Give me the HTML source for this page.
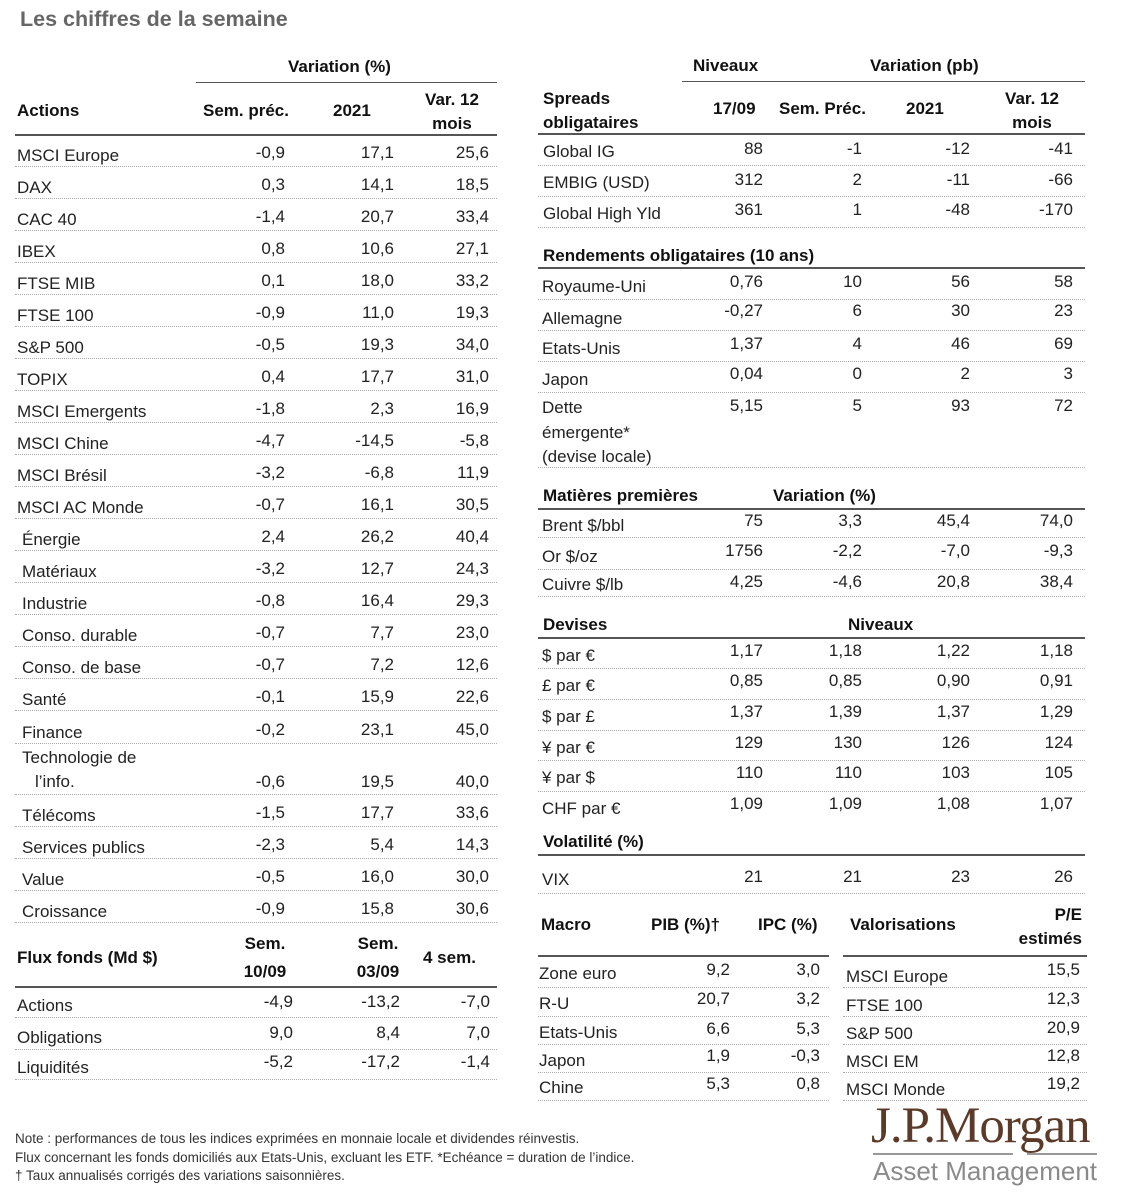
<!DOCTYPE html>
<html><head><meta charset="utf-8">
<style>
body{margin:0;width:1131px;height:1200px;position:relative;background:#fff;font-family:"Liberation Sans",sans-serif;font-size:17px;color:#222;overflow:hidden}
.a{position:absolute;white-space:nowrap}
.b{font-weight:bold;color:#111}
.r{position:absolute;border-bottom:1px dotted #aaa;box-sizing:border-box}
.r span{position:absolute;white-space:nowrap;line-height:20px}
.L{left:0;width:482px}
.R{left:538px;width:547px}
.solid{position:absolute;height:0;border-top:2px solid #555}
.c{text-align:center}
</style></head><body>
<div class="a" style="left:20px;top:7px;font-size:21.5px;font-weight:bold;color:#666">Les chiffres de la semaine</div>

<!-- LEFT TABLE -->
<div class="a b" style="left:288px;top:57px">Variation (%)</div>
<div class="solid" style="left:196px;top:82px;width:301px;border-top-width:1.5px"></div>
<div class="a b" style="left:17px;top:101px">Actions</div>
<div class="a b" style="left:203px;top:101px">Sem. préc.</div>
<div class="a b" style="left:333px;top:101px">2021</div>
<div class="a b c" style="left:412px;top:88px;width:80px;line-height:24px">Var. 12<br>mois</div>
<div class="solid" style="left:15px;top:134px;width:482px"></div>

<div style="position:absolute;left:15px;top:0">
<div class="r L" style="top:136px;height:31px"><span style="left:2px;top:10px">MSCI Europe</span><span style="right:212px;top:7px">-0,9</span><span style="right:103px;top:7px">17,1</span><span style="right:8px;top:7px">25,6</span></div>
<div class="r L" style="top:167px;height:32px"><span style="left:2px;top:11px">DAX</span><span style="right:212px;top:8px">0,3</span><span style="right:103px;top:8px">14,1</span><span style="right:8px;top:8px">18,5</span></div>
<div class="r L" style="top:199px;height:32px"><span style="left:2px;top:11px">CAC 40</span><span style="right:212px;top:8px">-1,4</span><span style="right:103px;top:8px">20,7</span><span style="right:8px;top:8px">33,4</span></div>
<div class="r L" style="top:231px;height:32px"><span style="left:2px;top:11px">IBEX</span><span style="right:212px;top:8px">0,8</span><span style="right:103px;top:8px">10,6</span><span style="right:8px;top:8px">27,1</span></div>
<div class="r L" style="top:263px;height:32px"><span style="left:2px;top:11px">FTSE MIB</span><span style="right:212px;top:8px">0,1</span><span style="right:103px;top:8px">18,0</span><span style="right:8px;top:8px">33,2</span></div>
<div class="r L" style="top:295px;height:32px"><span style="left:2px;top:11px">FTSE 100</span><span style="right:212px;top:8px">-0,9</span><span style="right:103px;top:8px">11,0</span><span style="right:8px;top:8px">19,3</span></div>
<div class="r L" style="top:327px;height:32px"><span style="left:2px;top:11px">S&amp;P 500</span><span style="right:212px;top:8px">-0,5</span><span style="right:103px;top:8px">19,3</span><span style="right:8px;top:8px">34,0</span></div>
<div class="r L" style="top:359px;height:32px"><span style="left:2px;top:11px">TOPIX</span><span style="right:212px;top:8px">0,4</span><span style="right:103px;top:8px">17,7</span><span style="right:8px;top:8px">31,0</span></div>
<div class="r L" style="top:391px;height:32px"><span style="left:2px;top:11px">MSCI Emergents</span><span style="right:212px;top:8px">-1,8</span><span style="right:103px;top:8px">2,3</span><span style="right:8px;top:8px">16,9</span></div>
<div class="r L" style="top:423px;height:32px"><span style="left:2px;top:11px">MSCI Chine</span><span style="right:212px;top:8px">-4,7</span><span style="right:103px;top:8px">-14,5</span><span style="right:8px;top:8px">-5,8</span></div>
<div class="r L" style="top:455px;height:32px"><span style="left:2px;top:11px">MSCI Brésil</span><span style="right:212px;top:8px">-3,2</span><span style="right:103px;top:8px">-6,8</span><span style="right:8px;top:8px">11,9</span></div>
<div class="r L" style="top:487px;height:32px"><span style="left:2px;top:11px">MSCI AC Monde</span><span style="right:212px;top:8px">-0,7</span><span style="right:103px;top:8px">16,1</span><span style="right:8px;top:8px">30,5</span></div>
<div class="r L" style="top:519px;height:32px"><span style="left:7px;top:11px">Énergie</span><span style="right:212px;top:8px">2,4</span><span style="right:103px;top:8px">26,2</span><span style="right:8px;top:8px">40,4</span></div>
<div class="r L" style="top:551px;height:32px"><span style="left:7px;top:11px">Matériaux</span><span style="right:212px;top:8px">-3,2</span><span style="right:103px;top:8px">12,7</span><span style="right:8px;top:8px">24,3</span></div>
<div class="r L" style="top:583px;height:32px"><span style="left:7px;top:11px">Industrie</span><span style="right:212px;top:8px">-0,8</span><span style="right:103px;top:8px">16,4</span><span style="right:8px;top:8px">29,3</span></div>
<div class="r L" style="top:615px;height:32px"><span style="left:7px;top:11px">Conso. durable</span><span style="right:212px;top:8px">-0,7</span><span style="right:103px;top:8px">7,7</span><span style="right:8px;top:8px">23,0</span></div>
<div class="r L" style="top:647px;height:32px"><span style="left:7px;top:11px">Conso. de base</span><span style="right:212px;top:8px">-0,7</span><span style="right:103px;top:8px">7,2</span><span style="right:8px;top:8px">12,6</span></div>
<div class="r L" style="top:679px;height:32px"><span style="left:7px;top:11px">Santé</span><span style="right:212px;top:8px">-0,1</span><span style="right:103px;top:8px">15,9</span><span style="right:8px;top:8px">22,6</span></div>
<div class="r L" style="top:711px;height:33px"><span style="left:7px;top:12px">Finance</span><span style="right:212px;top:9px">-0,2</span><span style="right:103px;top:9px">23,1</span><span style="right:8px;top:9px">45,0</span></div>
<div class="r L" style="top:744px;height:51px"><span style="left:7px;top:4px">Technologie de</span><span style="left:20px;top:28px">l’info.</span><span style="right:212px;top:28px">-0,6</span><span style="right:103px;top:28px">19,5</span><span style="right:8px;top:28px">40,0</span></div>
<div class="r L" style="top:795px;height:32px"><span style="left:7px;top:11px">Télécoms</span><span style="right:212px;top:8px">-1,5</span><span style="right:103px;top:8px">17,7</span><span style="right:8px;top:8px">33,6</span></div>
<div class="r L" style="top:827px;height:32px"><span style="left:7px;top:11px">Services publics</span><span style="right:212px;top:8px">-2,3</span><span style="right:103px;top:8px">5,4</span><span style="right:8px;top:8px">14,3</span></div>
<div class="r L" style="top:859px;height:32px"><span style="left:7px;top:11px">Value</span><span style="right:212px;top:8px">-0,5</span><span style="right:103px;top:8px">16,0</span><span style="right:8px;top:8px">30,0</span></div>
<div class="r L" style="top:891px;height:32px"><span style="left:7px;top:11px">Croissance</span><span style="right:212px;top:8px">-0,9</span><span style="right:103px;top:8px">15,8</span><span style="right:8px;top:8px">30,6</span></div>
</div>

<div class="a b" style="left:17px;top:948px">Flux fonds (Md $)</div>
<div class="a b c" style="left:230px;top:930px;width:70px;line-height:28px">Sem.<br>10/09</div>
<div class="a b c" style="left:338px;top:930px;width:80px;line-height:28px">Sem.<br>03/09</div>
<div class="a b" style="left:423px;top:948px">4 sem.</div>
<div class="solid" style="left:15px;top:986px;width:482px"></div>
<div style="position:absolute;left:15px;top:0">
<div class="r L" style="top:988px;height:30px"><span style="left:2px;top:8px">Actions</span><span style="right:204px;top:4px">-4,9</span><span style="right:97px;top:4px">-13,2</span><span style="right:7px;top:4px">-7,0</span></div>
<div class="r L" style="top:1018px;height:32px"><span style="left:2px;top:10px">Obligations</span><span style="right:204px;top:5px">9,0</span><span style="right:97px;top:5px">8,4</span><span style="right:7px;top:5px">7,0</span></div>
<div class="r L" style="top:1050px;height:30px"><span style="left:2px;top:8px">Liquidités</span><span style="right:204px;top:2px">-5,2</span><span style="right:97px;top:2px">-17,2</span><span style="right:7px;top:2px">-1,4</span></div>
</div>

<div class="a" style="left:15px;top:1130px;font-size:13.5px;line-height:18.5px;color:#333">Note : performances de tous les indices exprimées en monnaie locale et dividendes réinvestis.<br>Flux concernant les fonds domiciliés aux Etats-Unis, excluant les ETF. *Echéance = duration de l’indice.<br>† Taux annualisés corrigés des variations saisonnières.</div>

<!-- RIGHT TABLE -->
<div class="a b" style="left:693px;top:56px">Niveaux</div>
<div class="a b" style="left:870px;top:56px">Variation (pb)</div>
<div class="solid" style="left:682px;top:81px;width:403px;border-top-width:1.5px"></div>
<div class="a b" style="left:543px;top:87px;line-height:24px">Spreads<br>obligataires</div>
<div class="a b" style="left:713px;top:99px">17/09</div>
<div class="a b" style="left:779px;top:99px">Sem. Préc.</div>
<div class="a b" style="left:906px;top:99px">2021</div>
<div class="a b c" style="left:992px;top:87px;width:80px;line-height:24px">Var. 12<br>mois</div>
<div class="solid" style="left:538px;top:133px;width:547px"></div>

<div class="r R" style="top:135px;height:31px"><span style="left:5px;top:7px">Global IG</span><span style="right:322px;top:4px">88</span><span style="right:223px;top:4px">-1</span><span style="right:115px;top:4px">-12</span><span style="right:12px;top:4px">-41</span></div>
<div class="r R" style="top:166px;height:31px"><span style="left:5px;top:7px">EMBIG (USD)</span><span style="right:322px;top:4px">312</span><span style="right:223px;top:4px">2</span><span style="right:115px;top:4px">-11</span><span style="right:12px;top:4px">-66</span></div>
<div class="r R" style="top:197px;height:31px"><span style="left:5px;top:7px">Global High Yld</span><span style="right:322px;top:3px">361</span><span style="right:223px;top:3px">1</span><span style="right:115px;top:3px">-48</span><span style="right:12px;top:3px">-170</span></div>

<div class="a b" style="left:543px;top:246px">Rendements obligataires (10 ans)</div>
<div class="solid" style="left:538px;top:267px;width:547px"></div>
<div class="r R" style="top:269px;height:31px"><span style="left:4px;top:8px">Royaume-Uni</span><span style="right:322px;top:3px">0,76</span><span style="right:223px;top:3px">10</span><span style="right:115px;top:3px">56</span><span style="right:12px;top:3px">58</span></div>
<div class="r R" style="top:300px;height:31px"><span style="left:4px;top:9px">Allemagne</span><span style="right:322px;top:1px">-0,27</span><span style="right:223px;top:1px">6</span><span style="right:115px;top:1px">30</span><span style="right:12px;top:1px">23</span></div>
<div class="r R" style="top:331px;height:31px"><span style="left:4px;top:8px">Etats-Unis</span><span style="right:322px;top:3px">1,37</span><span style="right:223px;top:3px">4</span><span style="right:115px;top:3px">46</span><span style="right:12px;top:3px">69</span></div>
<div class="r R" style="top:362px;height:31px"><span style="left:4px;top:8px">Japon</span><span style="right:322px;top:2px">0,04</span><span style="right:223px;top:2px">0</span><span style="right:115px;top:2px">2</span><span style="right:12px;top:2px">3</span></div>
<div class="r R" style="top:393px;height:75px"><span style="left:4px;top:3px;line-height:24.5px">Dette<br>émergente*<br>(devise locale)</span><span style="right:322px;top:3px">5,15</span><span style="right:223px;top:3px">5</span><span style="right:115px;top:3px">93</span><span style="right:12px;top:3px">72</span></div>

<div class="a b" style="left:543px;top:486px">Matières premières</div>
<div class="a b" style="left:773px;top:486px">Variation (%)</div>
<div class="solid" style="left:538px;top:508px;width:547px"></div>
<div class="r R" style="top:510px;height:28px"><span style="left:4px;top:6px">Brent $/bbl</span><span style="right:322px;top:1px">75</span><span style="right:223px;top:1px">3,3</span><span style="right:115px;top:1px">45,4</span><span style="right:12px;top:1px">74,0</span></div>
<div class="r R" style="top:538px;height:32px"><span style="left:4px;top:9px">Or $/oz</span><span style="right:322px;top:3px">1756</span><span style="right:223px;top:3px">-2,2</span><span style="right:115px;top:3px">-7,0</span><span style="right:12px;top:3px">-9,3</span></div>
<div class="r R" style="top:570px;height:27px"><span style="left:4px;top:5px">Cuivre $/lb</span><span style="right:322px;top:2px">4,25</span><span style="right:223px;top:2px">-4,6</span><span style="right:115px;top:2px">20,8</span><span style="right:12px;top:2px">38,4</span></div>

<div class="a b" style="left:543px;top:615px">Devises</div>
<div class="a b" style="left:848px;top:615px">Niveaux</div>
<div class="solid" style="left:538px;top:637px;width:547px"></div>
<div class="r R" style="top:639px;height:30px"><span style="left:4px;top:7px">$ par €</span><span style="right:322px;top:2px">1,17</span><span style="right:223px;top:2px">1,18</span><span style="right:115px;top:2px">1,22</span><span style="right:12px;top:2px">1,18</span></div>
<div class="r R" style="top:669px;height:31px"><span style="left:4px;top:7px">£ par €</span><span style="right:322px;top:2px">0,85</span><span style="right:223px;top:2px">0,85</span><span style="right:115px;top:2px">0,90</span><span style="right:12px;top:2px">0,91</span></div>
<div class="r R" style="top:700px;height:31px"><span style="left:4px;top:7px">$ par £</span><span style="right:322px;top:2px">1,37</span><span style="right:223px;top:2px">1,39</span><span style="right:115px;top:2px">1,37</span><span style="right:12px;top:2px">1,29</span></div>
<div class="r R" style="top:731px;height:30px"><span style="left:4px;top:7px">¥ par €</span><span style="right:322px;top:2px">129</span><span style="right:223px;top:2px">130</span><span style="right:115px;top:2px">126</span><span style="right:12px;top:2px">124</span></div>
<div class="r R" style="top:761px;height:31px"><span style="left:4px;top:7px">¥ par $</span><span style="right:322px;top:2px">110</span><span style="right:223px;top:2px">110</span><span style="right:115px;top:2px">103</span><span style="right:12px;top:2px">105</span></div>
<div class="r R" style="top:792px;height:31px;border:none"><span style="left:4px;top:7px">CHF par €</span><span style="right:322px;top:2px">1,09</span><span style="right:223px;top:2px">1,09</span><span style="right:115px;top:2px">1,08</span><span style="right:12px;top:2px">1,07</span></div>

<div class="a b" style="left:543px;top:832px">Volatilité (%)</div>
<div class="solid" style="left:538px;top:854px;width:547px"></div>
<div class="r R" style="top:856px;height:38px"><span style="left:4px;top:14px">VIX</span><span style="right:322px;top:11px">21</span><span style="right:223px;top:11px">21</span><span style="right:115px;top:11px">23</span><span style="right:12px;top:11px">26</span></div>

<!-- Macro -->
<div class="a b" style="left:541px;top:915px">Macro</div>
<div class="a b" style="left:651px;top:915px">PIB (%)†</div>
<div class="a b" style="left:758px;top:915px">IPC (%)</div>
<div class="solid" style="left:538px;top:955px;width:291px"></div>
<div style="position:absolute;left:538px;top:0">
<div class="r" style="left:0;width:291px;top:957px;height:31px"><span style="left:1px;top:7px">Zone euro</span><span style="right:99px;top:3px">9,2</span><span style="right:9px;top:3px">3,0</span></div>
<div class="r" style="left:0;width:291px;top:988px;height:29px"><span style="left:1px;top:6px">R-U</span><span style="right:99px;top:1px">20,7</span><span style="right:9px;top:1px">3,2</span></div>
<div class="r" style="left:0;width:291px;top:1017px;height:28px"><span style="left:1px;top:6px">Etats-Unis</span><span style="right:99px;top:2px">6,6</span><span style="right:9px;top:2px">5,3</span></div>
<div class="r" style="left:0;width:291px;top:1045px;height:28px"><span style="left:1px;top:6px">Japon</span><span style="right:99px;top:1px">1,9</span><span style="right:9px;top:1px">-0,3</span></div>
<div class="r" style="left:0;width:291px;top:1073px;height:28px"><span style="left:1px;top:5px">Chine</span><span style="right:99px;top:1px">5,3</span><span style="right:9px;top:1px">0,8</span></div>
</div>

<div class="a b" style="left:850px;top:915px">Valorisations</div>
<div class="a b" style="left:990px;top:903px;width:92px;text-align:right;line-height:24px">P/E<br>estimés</div>
<div class="solid" style="left:843px;top:955px;width:244px"></div>
<div style="position:absolute;left:843px;top:0">
<div class="r" style="left:0;width:244px;top:957px;height:31px"><span style="left:3px;top:10px">MSCI Europe</span><span style="right:7px;top:3px">15,5</span></div>
<div class="r" style="left:0;width:244px;top:988px;height:29px"><span style="left:3px;top:8px">FTSE 100</span><span style="right:7px;top:1px">12,3</span></div>
<div class="r" style="left:0;width:244px;top:1017px;height:28px"><span style="left:3px;top:7px">S&amp;P 500</span><span style="right:7px;top:1px">20,9</span></div>
<div class="r" style="left:0;width:244px;top:1045px;height:28px"><span style="left:3px;top:7px">MSCI EM</span><span style="right:7px;top:1px">12,8</span></div>
<div class="r" style="left:0;width:244px;top:1073px;height:28px"><span style="left:3px;top:7px">MSCI Monde</span><span style="right:7px;top:1px">19,2</span></div>
</div>

<!-- Logo -->
<div class="a" style="left:871px;top:1098px;font-family:'Liberation Serif',serif;font-size:51px;line-height:56px;color:#5b3a29;letter-spacing:-1px">J.P.Morgan</div>
<div class="a" style="left:873px;top:1153px;width:140px;height:2px;background:#999"></div>
<div class="a" style="left:1027px;top:1153px;width:70px;height:2px;background:#999"></div>
<div class="a" style="left:873px;top:1155px;font-size:26px;line-height:32px;color:#8a8a8a">Asset Management</div>
</body></html>
